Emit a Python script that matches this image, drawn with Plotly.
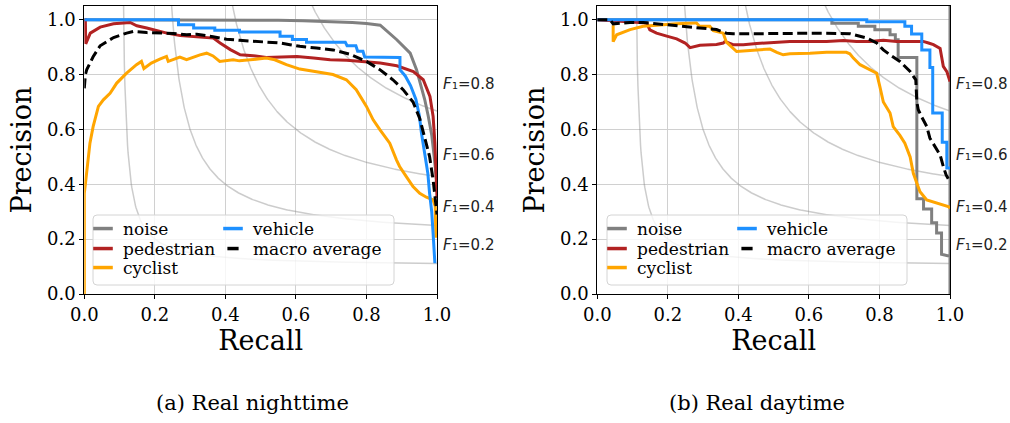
import numpy as np
import plotly.graph_objects as go

W, H = 1010, 423

# ---------------- data ----------------
TICK_VALUES = [0.0, 0.2, 0.4, 0.6, 0.8, 1.0]
TICK_LABELS = ["0.0", "0.2", "0.4", "0.6", "0.8", "1.0"]
F1_LEVELS = [0.2, 0.4, 0.6, 0.8]
F1_LABEL_Y = [0.179, 0.318, 0.507, 0.766]
CAPTIONS = ["(a) Real nighttime", "(b) Real daytime"]
SERIES_ORDER = ["noise", "pedestrian", "cyclist", "vehicle", "macro average"]

# --- (a) Real nighttime ---
NIGHT_NOISE_R = [0.0, 0.10, 0.27, 0.40, 0.55, 0.62, 0.70, 0.76, 0.80, 0.839, 0.886, 0.924,
                 0.942, 0.952, 0.965, 0.975, 0.985, 0.992, 1.0]
NIGHT_NOISE_P = [1.0, 1.0, 1.0, 0.999, 0.998, 0.996, 0.994, 0.99, 0.986, 0.98, 0.927, 0.878,
                 0.818, 0.769, 0.71, 0.65, 0.58, 0.50, 0.40]

NIGHT_PED_R = [0.0, 0.003, 0.004, 0.017, 0.045, 0.083, 0.13, 0.149, 0.177, 0.234, 0.272, 0.319,
               0.366, 0.385, 0.414, 0.442, 0.479, 0.516, 0.555, 0.603, 0.65, 0.697, 0.744, 0.79,
               0.839, 0.886, 0.933, 0.961, 0.98, 0.989, 0.994, 0.997, 1.0]
NIGHT_PED_P = [1.0, 1.0, 0.912, 0.951, 0.973, 0.985, 0.99, 0.978, 0.97, 0.951, 0.942, 0.937,
               0.933, 0.915, 0.891, 0.872, 0.869, 0.862, 0.864, 0.866, 0.86, 0.854, 0.852, 0.848,
               0.842, 0.832, 0.811, 0.781, 0.72, 0.647, 0.55, 0.45, 0.35]

NIGHT_CYC_R = [0.0, 0.0, 0.003, 0.0085, 0.016, 0.025, 0.04, 0.054, 0.073, 0.092, 0.12, 0.148,
               0.162, 0.169, 0.19, 0.214, 0.233, 0.238, 0.271, 0.29, 0.328, 0.347, 0.365, 0.384,
               0.422, 0.44, 0.479, 0.516, 0.54, 0.573, 0.611, 0.668, 0.705, 0.743, 0.771, 0.80,
               0.819, 0.838, 0.866, 0.885, 0.894, 0.913, 0.932, 0.951, 0.97, 0.989, 0.995, 0.997]
NIGHT_CYC_P = [0.0, 0.367, 0.40, 0.465, 0.55, 0.61, 0.684, 0.708, 0.732, 0.769, 0.805, 0.836,
               0.848, 0.822, 0.842, 0.856, 0.866, 0.848, 0.864, 0.854, 0.872, 0.878, 0.868, 0.848,
               0.854, 0.85, 0.856, 0.86, 0.854, 0.836, 0.82, 0.808, 0.80, 0.781, 0.745, 0.684,
               0.635, 0.599, 0.55, 0.489, 0.465, 0.428, 0.392, 0.367, 0.353, 0.343, 0.32, 0.205]

NIGHT_VEH_R = [0.0, 0.267, 0.267, 0.31, 0.31, 0.37, 0.37, 0.44, 0.44, 0.555, 0.555, 0.59, 0.59,
               0.63, 0.63, 0.74, 0.745, 0.77, 0.775, 0.79, 0.795, 0.895, 0.895, 0.91, 0.925, 0.94,
               0.95, 0.956, 0.965, 0.974, 0.979, 0.985, 0.989, 0.994]
NIGHT_VEH_P = [1.0, 1.0, 0.982, 0.982, 0.970, 0.970, 0.962, 0.962, 0.955, 0.955, 0.94, 0.94,
               0.928, 0.928, 0.918, 0.918, 0.905, 0.905, 0.885, 0.885, 0.864, 0.862, 0.818, 0.795,
               0.76, 0.71, 0.65, 0.586, 0.513, 0.44, 0.367, 0.30, 0.22, 0.112]

NIGHT_MAC_R = [0.0, 0.003, 0.007, 0.017, 0.025, 0.045, 0.063, 0.083, 0.12, 0.139, 0.177, 0.214,
               0.252, 0.29, 0.319, 0.365, 0.403, 0.44, 0.479, 0.516, 0.555, 0.583, 0.611, 0.658,
               0.705, 0.753, 0.781, 0.80, 0.838, 0.875, 0.904, 0.932, 0.951, 0.965, 0.979, 0.989,
               0.996, 1.0]
NIGHT_MAC_P = [0.75, 0.80, 0.818, 0.845, 0.865, 0.905, 0.92, 0.935, 0.951, 0.957, 0.953, 0.951,
               0.95, 0.945, 0.947, 0.938, 0.929, 0.925, 0.921, 0.918, 0.915, 0.909, 0.903, 0.897,
               0.89, 0.874, 0.86, 0.848, 0.818, 0.781, 0.745, 0.70, 0.64, 0.574, 0.501, 0.416,
               0.32, 0.29]

# --- (b) Real daytime ---
DAY_NOISE_R = [0.0, 0.665, 0.665, 0.74, 0.74, 0.787, 0.787, 0.83, 0.83, 0.845, 0.845, 0.853,
               0.853, 0.906, 0.906, 0.925, 0.925, 0.948, 0.948, 0.962, 0.962, 0.976, 0.976, 0.993,
               1.0, 1.0, 1.0]
DAY_NOISE_P = [1.0, 1.0, 0.987, 0.987, 0.976, 0.976, 0.963, 0.963, 0.945, 0.945, 0.927, 0.927,
               0.862, 0.862, 0.347, 0.347, 0.31, 0.31, 0.26, 0.26, 0.222, 0.222, 0.145, 0.14,
               0.137, 0.0, 1.05]

DAY_PED_R = [0.0, 0.05, 0.10, 0.14, 0.149, 0.168, 0.197, 0.225, 0.249, 0.263, 0.291, 0.338,
             0.357, 0.362, 0.385, 0.414, 0.452, 0.509, 0.546, 0.603, 0.65, 0.698, 0.735, 0.773,
             0.811, 0.849, 0.887, 0.924, 0.939, 0.953, 0.972, 0.976, 0.981, 0.991, 0.998, 1.0]
DAY_PED_P = [1.0, 0.995, 0.992, 0.988, 0.963, 0.951, 0.94, 0.93, 0.915, 0.898, 0.907, 0.91,
             0.915, 0.921, 0.909, 0.909, 0.913, 0.917, 0.921, 0.921, 0.921, 0.924, 0.921, 0.921,
             0.925, 0.921, 0.921, 0.921, 0.915, 0.909, 0.895, 0.86, 0.83, 0.811, 0.781, 0.775]

DAY_CYC_R = [0.045, 0.045, 0.055, 0.064, 0.093, 0.13, 0.149, 0.178, 0.215, 0.225, 0.277, 0.281,
             0.29, 0.319, 0.329, 0.357, 0.366, 0.395, 0.433, 0.452, 0.49, 0.509, 0.527, 0.546,
             0.565, 0.603, 0.65, 0.706, 0.716, 0.726, 0.745, 0.773, 0.792, 0.801, 0.811, 0.83,
             0.839, 0.858, 0.872, 0.887, 0.896, 0.906, 0.915, 0.934, 0.962, 0.995, 1.0]
DAY_CYC_P = [0.98, 0.92, 0.945, 0.95, 0.964, 0.976, 0.978, 0.982, 0.985, 0.985, 0.988, 0.988,
             0.976, 0.976, 0.96, 0.951, 0.918, 0.884, 0.888, 0.89, 0.893, 0.881, 0.872, 0.876,
             0.876, 0.878, 0.881, 0.881, 0.876, 0.86, 0.836, 0.818, 0.805, 0.757, 0.70, 0.66,
             0.61, 0.578, 0.55, 0.50, 0.44, 0.404, 0.373, 0.343, 0.331, 0.319, 0.313]

DAY_VEH_R = [0.0, 0.764, 0.764, 0.872, 0.872, 0.891, 0.891, 0.92, 0.92, 0.943, 0.943, 0.951,
             0.951, 0.978, 0.978, 0.991, 0.991, 1.0]
DAY_VEH_P = [1.0, 1.0, 0.993, 0.993, 0.976, 0.976, 0.948, 0.948, 0.89, 0.89, 0.826, 0.826,
             0.66, 0.66, 0.553, 0.553, 0.459, 0.459]

DAY_MAC_R = [0.0, 0.036, 0.045, 0.093, 0.13, 0.178, 0.225, 0.263, 0.3, 0.338, 0.366, 0.385,
             0.45, 0.55, 0.641, 0.716, 0.735, 0.764, 0.792, 0.811, 0.83, 0.858, 0.887, 0.903,
             0.906, 0.91, 0.92, 0.934, 0.943, 0.957, 0.972, 0.981, 0.989, 0.995]
DAY_MAC_P = [1.0, 1.0, 0.985, 0.99, 0.99, 0.984, 0.978, 0.975, 0.97, 0.964, 0.951, 0.949,
             0.949, 0.951, 0.951, 0.949, 0.942, 0.933, 0.915, 0.89, 0.872, 0.848, 0.811, 0.781,
             0.70, 0.672, 0.645, 0.611, 0.568, 0.538, 0.507, 0.465, 0.434, 0.42]

NIGHT = {
    "noise": (NIGHT_NOISE_R, NIGHT_NOISE_P),
    "pedestrian": (NIGHT_PED_R, NIGHT_PED_P),
    "cyclist": (NIGHT_CYC_R, NIGHT_CYC_P),
    "vehicle": (NIGHT_VEH_R, NIGHT_VEH_P),
    "macro average": (NIGHT_MAC_R, NIGHT_MAC_P),
}
DAY = {
    "noise": (DAY_NOISE_R, DAY_NOISE_P),
    "pedestrian": (DAY_PED_R, DAY_PED_P),
    "cyclist": (DAY_CYC_R, DAY_CYC_P),
    "vehicle": (DAY_VEH_R, DAY_VEH_P),
    "macro average": (DAY_MAC_R, DAY_MAC_P),
}

# ---------------- styling ----------------
COLORS = {
    "noise": "#808080",
    "pedestrian": "#b22222",
    "cyclist": "#ffa500",
    "vehicle": "#1e90ff",
    "macro average": "#000000",
}
SERIF = "DejaVu Serif"
SANS = "DejaVu Sans"
LEGEND_ROWS = [["noise", "vehicle"], ["pedestrian", "macro average"], ["cyclist"]]


def X(px):
    return px / W


def Y(py):
    return 1 - py / H


def rounded_box(x0, y0, x1, y1, r):
    return (f"M {X(x0 + r)},{Y(y0)} L {X(x1 - r)},{Y(y0)} Q {X(x1)},{Y(y0)} {X(x1)},{Y(y0 + r)} "
            f"L {X(x1)},{Y(y1 - r)} Q {X(x1)},{Y(y1)} {X(x1 - r)},{Y(y1)} "
            f"L {X(x0 + r)},{Y(y1)} Q {X(x0)},{Y(y1)} {X(x0)},{Y(y1 - r)} "
            f"L {X(x0)},{Y(y0 + r)} Q {X(x0)},{Y(y0)} {X(x0 + r)},{Y(y0)} Z")


panels = [
    dict(xa="x", ya="y", data=NIGHT, legends=["legend", "legend2", "legend3"],
         legend_left=83, box=(93, 215, 394, 285), caption_x=252),
    dict(xa="x2", ya="y2", data=DAY, legends=["legend4", "legend5", "legend6"],
         legend_left=597, box=(607, 215, 907, 285), caption_x=757),
]

fig = go.Figure()
annotations = []
shapes = []
layout_legends = {}

for k, pan in enumerate(panels):
    xa, ya = pan["xa"], pan["ya"]
    # iso-F1 reference curves
    for f in F1_LEVELS:
        xs = np.linspace(f / 2 + 1e-4, 1.0, 600)
        ys = f * xs / (2 * xs - f)
        keep = ys <= 1.6
        fig.add_trace(go.Scatter(x=xs[keep], y=ys[keep], mode="lines",
                                 line=dict(color="rgba(128,128,128,0.4)", width=1.5),
                                 showlegend=False, hoverinfo="skip", xaxis=xa, yaxis=ya))
    # PR curves
    for name in SERIES_ORDER:
        r, p = pan["data"][name]
        fig.add_trace(go.Scatter(
            x=r, y=p, mode="lines", name=name, showlegend=False,
            line=dict(color=COLORS[name], width=3,
                      dash="10px,4.5px" if name == "macro average" else "solid"),
            xaxis=xa, yaxis=ya))
    # legend entries (short handles like matplotlib), one horizontal legend per row
    row_tops = [211, 231, 250]
    for row, lg, top in zip(LEGEND_ROWS, pan["legends"], row_tops):
        for j, name in enumerate(row):
            size = 8 if name == "macro average" else 14
            fig.add_trace(go.Scatter(
                x=[None], y=[None], mode="markers", name=name, legend=lg,
                legendwidth=85 if j == 0 else 170,
                marker=dict(symbol="line-ew", size=size, color=COLORS[name],
                            line=dict(color=COLORS[name], width=3.5)),
                xaxis=xa, yaxis=ya, hoverinfo="skip"))
        layout_legends[lg] = dict(
            orientation="h", x=X(pan["legend_left"]), xanchor="left", y=Y(top), yanchor="top",
            bgcolor="rgba(0,0,0,0)", borderwidth=0, traceorder="normal",
            entrywidthmode="pixels",
            font=dict(family=SERIF, size=17, color="black"))
    # legend frame
    bx0, by0, bx1, by1 = pan["box"]
    shapes.append(dict(type="path", path=rounded_box(bx0, by0, bx1, by1, 4), xref="paper",
                       yref="paper", fillcolor="rgba(255,255,255,0.8)",
                       line=dict(color="#d4d4d4", width=1), layer="above"))
    # F1 labels: italic "F" followed by subscript-one and value
    for f, ly in zip(F1_LEVELS, F1_LABEL_Y):
        annotations.append(dict(x=1.0, y=ly, xref=xa, yref=ya, xanchor="left", yanchor="middle",
                                xshift=4, showarrow=False, text="F",
                                font=dict(family=SANS, size=15, color="#222222", style="italic")))
        annotations.append(dict(x=1.0, y=ly, xref=xa, yref=ya, xanchor="left", yanchor="middle",
                                xshift=13, showarrow=False, text=f"\u2081={f:.1f}",
                                font=dict(family=SANS, size=15, color="#222222")))
    # caption
    annotations.append(dict(x=X(pan["caption_x"]), y=Y(403), xref="paper", yref="paper",
                            xanchor="center", yanchor="middle", showarrow=False,
                            text=CAPTIONS[k], font=dict(family=SERIF, size=21, color="black")))

axis_common = dict(
    showgrid=True, gridcolor="#d0d0d0", gridwidth=1, zeroline=False,
    showline=True, linecolor="black", linewidth=1, mirror=True,
    ticks="outside", ticklen=4, tickwidth=1, tickcolor="black",
    tickvals=TICK_VALUES, ticktext=TICK_LABELS,
    tickfont=dict(family=SERIF, size=18, color="black"), automargin=False,
)

y_dom = [Y(294), Y(6)]
layout = dict(
    width=W, height=H, margin=dict(l=0, r=0, t=0, b=0),
    paper_bgcolor="white", plot_bgcolor="white",
    xaxis=dict(domain=[X(84.3), X(437.0)], range=[0, 1], anchor="y",
               title=dict(text="Recall", font=dict(family=SERIF, size=27, color="black"), standoff=4),
               **axis_common),
    yaxis=dict(domain=y_dom, range=[0, 1.05], anchor="x",
               title=dict(text="Precision", font=dict(family=SERIF, size=27, color="black"), standoff=7),
               **axis_common),
    xaxis2=dict(domain=[X(597.3), X(950.0)], range=[0, 1], anchor="y2",
                title=dict(text="Recall", font=dict(family=SERIF, size=27, color="black"), standoff=4),
                **axis_common),
    yaxis2=dict(domain=y_dom, range=[0, 1.05], anchor="x2",
                title=dict(text="Precision", font=dict(family=SERIF, size=27, color="black"), standoff=7),
                **axis_common),
    annotations=annotations, shapes=shapes, showlegend=True,
)
layout.update(layout_legends)
fig.update_layout(**layout)

fig.write_html("out.html")
